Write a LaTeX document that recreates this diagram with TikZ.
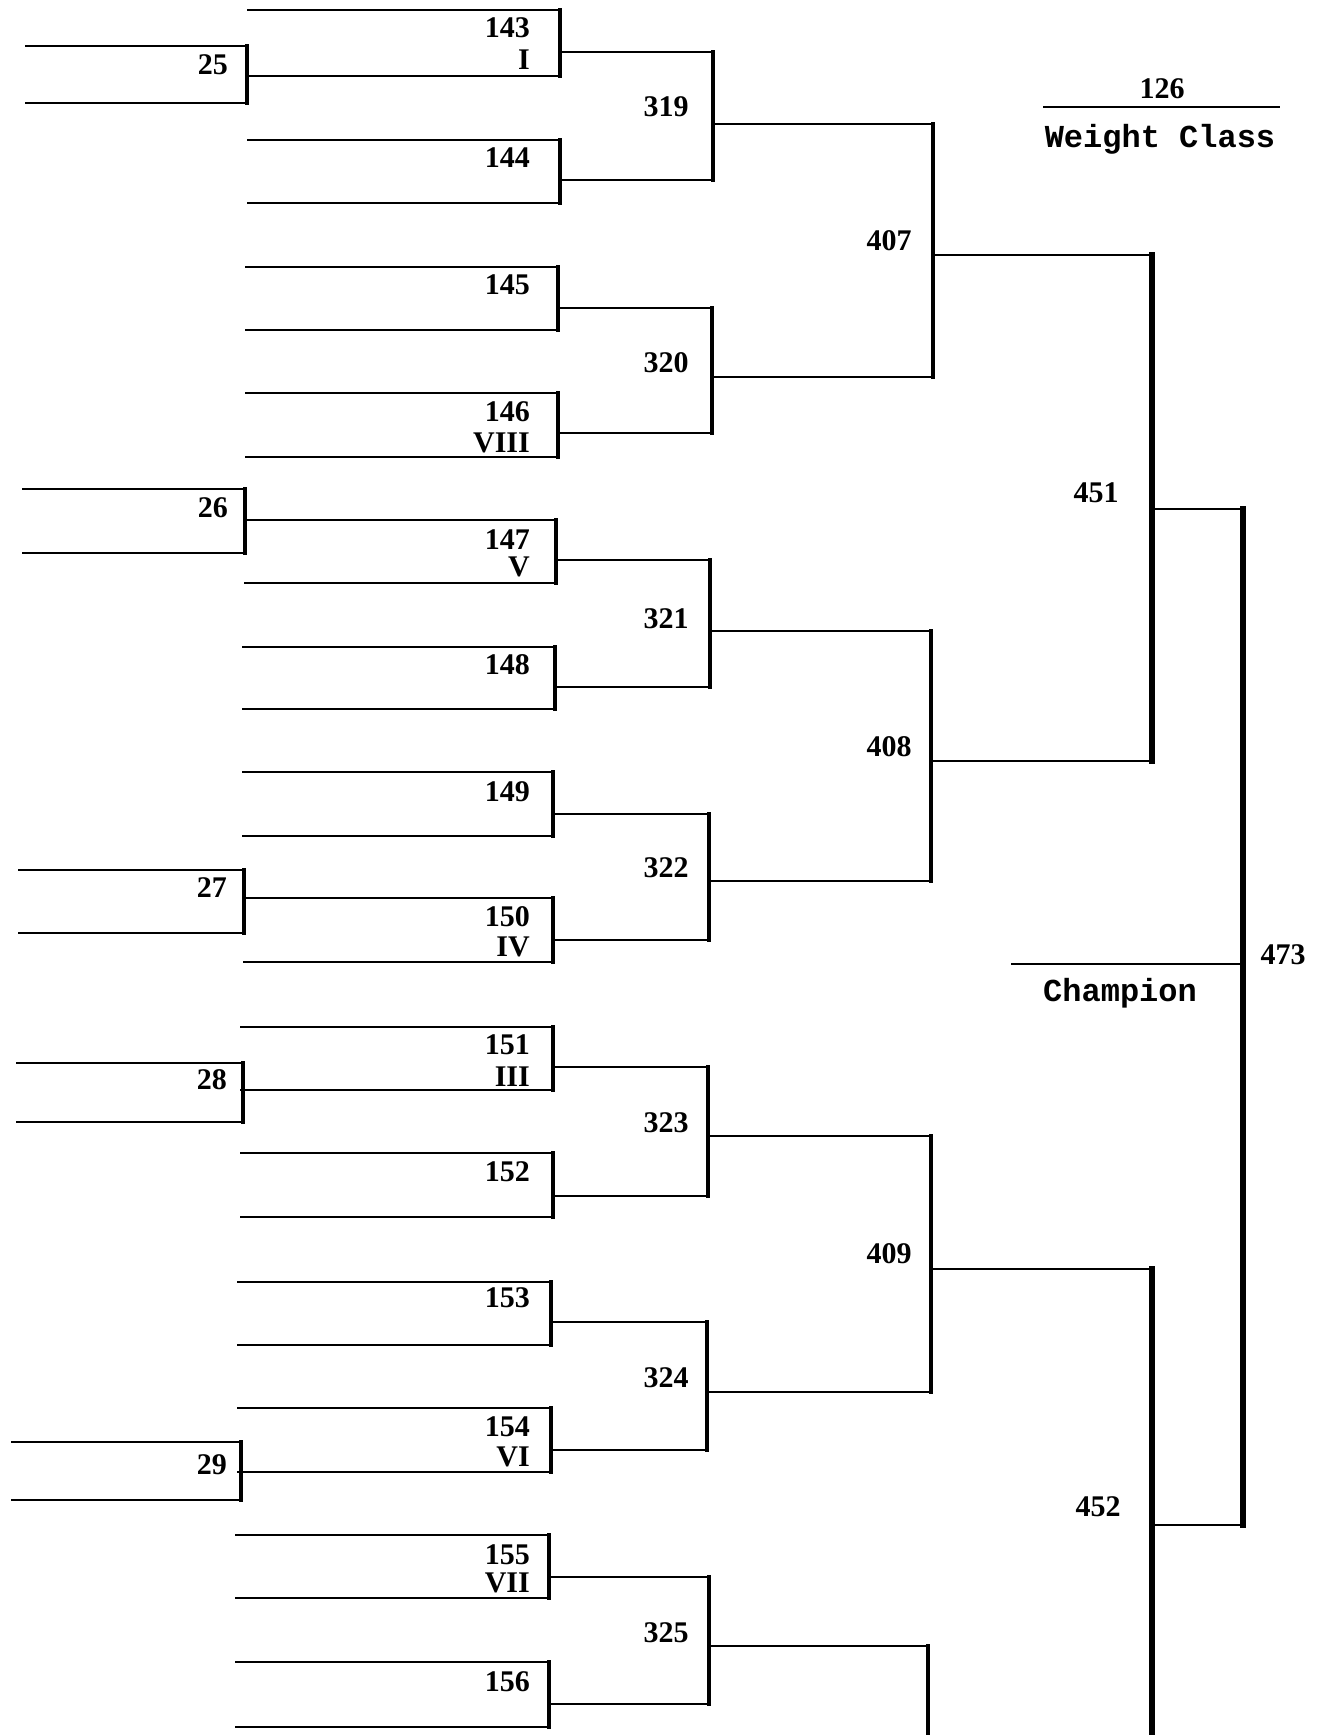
\documentclass[tikz,border=0pt]{standalone}
\usepackage{fontspec}
\newfontfamily\numfont{Liberation Serif}
\newfontfamily\typefont{Liberation Mono}
\begin{document}
\begin{tikzpicture}[x=1pt,y=-1pt,
  hl/.style={line width=2.6pt, line cap=rect},
  vl/.style={line width=4.5pt, line cap=rect},
  vlt/.style={line width=5.5pt, line cap=rect},
  num/.style={font=\numfont\bfseries\fontsize{30}{30}\selectfont, inner sep=0pt},
  ent/.style={num, anchor=east},
  typ/.style={font=\typefont\bfseries\fontsize{32}{32}\selectfont, inner sep=0pt}]
\useasboundingbox[fill=white] (0,0) rectangle (1324,1735);

% first-column entry boxes
\foreach \l/\t/\b/\r in {26/46/103/247, 23/489/553/245, 19/870/933/244, 17/1063/1122/243, 12/1442/1500/241}{
  \draw[hl] (\l,\t) -- (\r,\t);
  \draw[hl] (\l,\b) -- (\r,\b);
  \draw[vl] (\r,\t) -- (\r,\b);
}
% second-column entry boxes
\foreach \l/\t/\b/\r in {248/10/76/560, 248/140/203/560, 246/267/330/558, 246/393/457/558,
  245/520/583/556, 243/647/709/555, 243/772/836/553, 244/898/962/553,
  241/1027/1090/553, 241/1153/1217/553, 238/1282/1345/551, 238/1408/1472/551,
  236/1535/1598/549, 236/1662/1727/549}{
  \draw[hl] (\l,\t) -- (\r,\t);
  \draw[hl] (\l,\b) -- (\r,\b);
  \draw[vl] (\r,\t) -- (\r,\b);
}
% third-column brackets
\foreach \l/\t/\b/\r in {560/52/180/713, 558/308/433/712, 556/560/687/710, 553/814/940/709,
  553/1067/1196/708, 551/1322/1450/707, 549/1577/1704/709}{
  \draw[hl] (\l,\t) -- (\r,\t);
  \draw[hl] (\l,\b) -- (\r,\b);
  \draw[vl] (\r,\t) -- (\r,\b);
}
% fourth-column brackets
\foreach \l/\t/\b/\r in {713/124/377/933, 710/631/881/931, 708/1136/1392/931}{
  \draw[hl] (\l,\t) -- (\r,\t);
  \draw[hl] (\l,\b) -- (\r,\b);
  \draw[vl] (\r,\t) -- (\r,\b);
}
\draw[hl] (709,1646) -- (928,1646);
\draw[vl] (928,1646) -- (928,1740);

% semifinal and final
\draw[hl] (933,255) -- (1152,255);
\draw[hl] (931,761) -- (1152,761);
\draw[vlt] (1152,255) -- (1152,761);
\draw[hl] (931,1269) -- (1152,1269);
\draw[vlt] (1152,1269) -- (1152,1740);
\draw[hl] (1152,509) -- (1243,509);
\draw[hl] (1152,1525) -- (1243,1525);
\draw[vlt] (1243,509) -- (1243,1525);
\draw[hl] (1012,964) -- (1243,964);
\draw[hl] (1044,107) -- (1279,107);

% first-column labels
\node[ent] (n25) at (228,65) {25};
\node[ent] (n26) at (228,508) {26};
\node[ent] (n27) at (227,888) {27};
\node[ent] (n28) at (227,1080) {28};
\node[ent] (n29) at (227,1465) {29};

% second-column labels
\node[ent] (n143) at (530,28) {143};
\node[ent] (r1) at (530,60) {I};
\node[ent] (n144) at (530,158) {144};
\node[ent] (n145) at (530,285) {145};
\node[ent] (n146) at (530,412) {146};
\node[ent] (r8) at (530,443) {VIII};
\node[ent] (n147) at (530,540) {147};
\node[ent] (r5) at (530,567) {V};
\node[ent] (n148) at (530,665) {148};
\node[ent] (n149) at (530,792) {149};
\node[ent] (n150) at (530,917) {150};
\node[ent] (r4) at (530,947) {IV};
\node[ent] (n151) at (530,1045) {151};
\node[ent] (r3) at (530,1077) {III};
\node[ent] (n152) at (530,1172) {152};
\node[ent] (n153) at (530,1298) {153};
\node[ent] (n154) at (530,1427) {154};
\node[ent] (r6) at (530,1457) {VI};
\node[ent] (n155) at (530,1555) {155};
\node[ent] (r7) at (530,1583) {VII};
\node[ent] (n156) at (530,1682) {156};

% bracket labels
\node[num] (n319) at (666,107) {319};
\node[num] (n320) at (666,363) {320};
\node[num] (n321) at (666,619) {321};
\node[num] (n322) at (666,868) {322};
\node[num] (n323) at (666,1123) {323};
\node[num] (n324) at (666,1378) {324};
\node[num] (n325) at (666,1633) {325};
\node[num] (n407) at (889,241) {407};
\node[num] (n408) at (889,747) {408};
\node[num] (n409) at (889,1254) {409};
\node[num] (n451) at (1096,493) {451};
\node[num] (n452) at (1098,1507) {452};
\node[num] (n473) at (1283,955) {473};

% header and champion
\node[num] (n126) at (1162,89) {126};
\node[typ] (wc) at (1160,139) {Weight Class};
\node[typ] (ch) at (1120,993) {Champion};
\end{tikzpicture}
\end{document}
